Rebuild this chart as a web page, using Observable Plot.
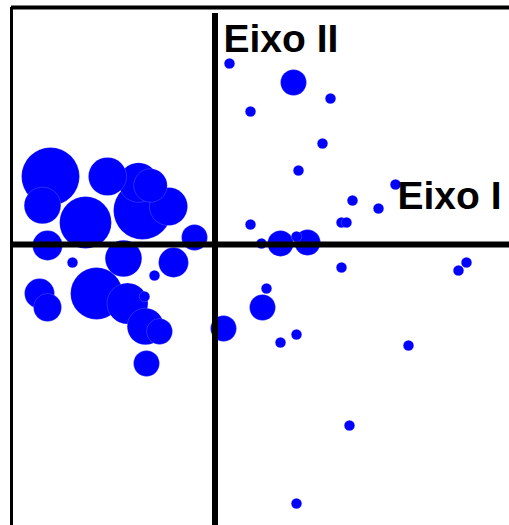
<!DOCTYPE html>
<html><head><meta charset="utf-8">
<script src="https://cdn.jsdelivr.net/npm/d3@7"></script>
<script src="https://cdn.jsdelivr.net/npm/@observablehq/plot@0.6"></script>
<style>html,body{margin:0;padding:0;background:#fff;overflow:hidden}</style>
</head><body><div id="chart"></div>
<script>
// Coordenadas no Eixo I (horizontal) e Eixo II (vertical), e peso de cada ponto
const eixoI = [
  0.0725, 0.1775, 0.5775, 0.5375, 0.4175, 0.9025, 0.6875, 0.8175, 0.6325, 0.6575,
  0.1775, 0.2325, 0.4075, 0.6325, 1.2575, 1.2175, 0.2575, 0.4075, 0.3275, 0.9675,
  0.6725, 0.4075, -0.7125, -0.3025, -0.3525,
  0.3925, 0.3275, 0.4625, 0.2375, 0.0425, -0.3425, -0.1025, -0.2775,
  -0.2075, -0.8375, -0.8775, -0.8375,
  -0.4575, -0.3475, -0.3825, -0.3225,
  -0.8625, -0.5375, -0.2325, -0.4375,
  -0.6475, -0.5925, -0.8225, -0.3625
];
const eixoII = [
  0.905, 0.665, 0.73, 0.505, 0.37, 0.30, 0.22, 0.18, 0.11, 0.11,
  0.10, 0.005, 0.04, -0.115, -0.09, -0.13, -0.22, -0.45, -0.49, -0.505,
  -0.905, -1.295, -0.09, -0.155, -0.26,
  0.81, 0.005, 0.01, -0.315, -0.42, -0.595, 0.035, -0.435,
  -0.09, -0.005, -0.245, -0.315,
  -0.07, -0.41, 0.31, 0.295,
  0.195, 0.34, 0.19, -0.295,
  0.11, -0.245, 0.34, 0.17
];
const peso = [
  1, 1, 1, 1, 1, 1, 1, 1, 1, 1,
  1, 1, 1, 1, 1, 1, 1, 1, 1, 1,
  1, 1, 1, 1, 1,
  6, 6, 6, 6, 6, 6, 6, 6,
  8, 8, 8, 7,
  12, 12, 14, 10,
  12, 13, 13, 15,
  24, 24, 30, 30
];
const rotuloEixoI = "Eixo I";
const rotuloEixoII = "Eixo II";

const dominioX = [-1.0175, 1.4725];
const dominioY = [-1.405, 1.185];
const topoEixoII = 1.155;

const pontos = eixoI.map((x, i) => ({x, y: eixoII[i], peso: peso[i]}));

const chart = Plot.plot({
  width: 509,
  height: 525,
  marginLeft: 11,
  marginRight: 0,
  marginTop: 7,
  marginBottom: 0,
  x: {domain: dominioX, axis: null},
  y: {domain: dominioY, axis: null},
  r: {type: "sqrt", domain: [0, 30], range: [0, 29]},
  style: {fontFamily: "'Liberation Sans', Arial, sans-serif", background: "white"},
  marks: [
    Plot.dot(pontos, {x: "x", y: "y", r: "peso", fill: "#0000ff", stroke: "white", strokeWidth: 0.5, strokeOpacity: 0.35}),
    Plot.ruleY([0], {stroke: "black", strokeWidth: 6}),
    Plot.ruleX([0], {y1: topoEixoII, y2: dominioY[0], stroke: "black", strokeWidth: 6}),
    Plot.ruleY([dominioY[1]], {stroke: "black", strokeWidth: 4}),
    Plot.ruleX([dominioX[0]], {stroke: "black", strokeWidth: 3}),
    Plot.text([rotuloEixoII], {x: 0, frameAnchor: "top", text: d => d, textAnchor: "start", lineAnchor: "bottom", dx: 8.5, dy: 44, fontSize: 39, fontWeight: "bold", fill: "black"}),
    Plot.text([rotuloEixoI], {y: 0, frameAnchor: "right", text: d => d, textAnchor: "end", lineAnchor: "bottom", dx: -8, dy: -36, fontSize: 39, fontWeight: "bold", fill: "black"})
  ]
});
document.getElementById("chart").appendChild(chart);
</script>
</body></html>
